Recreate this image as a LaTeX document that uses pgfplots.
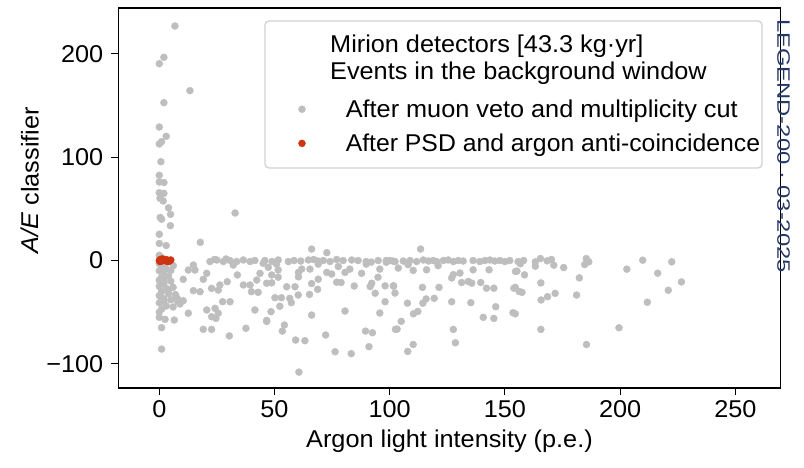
\documentclass[border=0pt]{standalone}
\usepackage{pgfplots}
\pgfplotsset{compat=1.18}
\usepackage{fontspec}
\setmainfont[FakeStretch=1.04]{Liberation Sans}
\definecolor{ptgray}{RGB}{190,190,190}
\definecolor{ptred}{RGB}{207,52,17}
\definecolor{logoblue}{RGB}{35,55,105}
\newcommand{\bigfont}{\fontsize{24.3}{28}\selectfont}
\begin{document}
\begin{tikzpicture}
\useasboundingbox (-118.5pt,-79pt) rectangle (685.5pt,388pt);
\begin{axis}[
  name=ax, at={(0pt,0pt)}, anchor=south west,
  scale only axis, width=662pt, height=380pt,
  xmin=-17.7, xmax=269.6, ymin=-123.4, ymax=244.4,
  xtick={0,50,100,150,200,250},
  ytick={-100,0,100,200},
  yticklabels={−100,0,100,200},
  tick align=outside, tick pos=left,
  major tick length=7pt,
  every tick/.style={black, line width=1.1pt},
  axis line style={black, line width=1.3pt},
  /pgf/number format/assume math mode=true,
  ticklabel style={font=\bigfont},
  xticklabel style={inner sep=5pt},
  yticklabel style={inner sep=8pt},
  xlabel={Argon light intensity (p.e.)},
  ylabel={\textit{A/E} classifier},
  label style={font=\bigfont},
  xlabel style={at={(axis description cs:0.5,-0.1395)}, anchor=center},
  ylabel style={at={(axis description cs:-0.1337,0.547)}, anchor=center},
  legend style={
    at={(0,1)}, anchor=north west, xshift=176.8pt, yshift=-89.5pt,
    draw=none, fill=none, font=\bigfont,
    nodes={inner sep=0pt},
    row sep=15pt,
    /tikz/every odd column/.append style={column sep=40.3pt},
  },
  legend cell align=left,
  legend image code/.code={\draw[#1] plot coordinates {(0pt,0pt)};},
]
\addplot[ptgray, only marks, mark=*, mark size=3.5pt, mark options={draw=ptgray, fill=ptgray}] coordinates {
(6.8,227) (2,196.7) (0,190.5) (13.3,164.4) (2,152.8) (0,129.2) (3,120.2) (1,115) (0,112.8) (0.7,95.6)
(0,82.5) (0,76) (2,75.5) (0,65.6) (2,65) (0.3,60.2) (1.7,57.6) (4,51) (4.9,44.7) (0.4,41.7) (1,40)
(4.8,33.7) (0,25.4) (0,16.5) (3,14.5) (32.9,46) (17.8,17.6)
(0,-3) (1,-6) (3,-8) (0,-10) (2,-13) (1,-16) (4,-15) (0,-19) (2,-22) (0,-25) (3,-27) (1,-30) (4,-32)
(0,-34) (2,-37) (5,-38) (0,-41) (3,-44) (1,-47) (6,-45) (0,-50) (2,-40) (1,-36) (4,-28) (2,-18) (5,-20)
(6,-26) (7,-33) (8,-40) (0,-55) (2.5,-57) (6.5,-57.6) (1,-65) (1,-85.7) (0,5) (1,3) (3,-2)
(6.1,-5) (5,-9.6) (14.8,-4.4) (12.6,-9.2) (15.5,-9.2) (20.6,-12.4) (10.4,-18.2) (19.1,-18.2)
(22,-1) (25,0.5) (27.8,-1) (30.7,0) (33.6,-1) (36.5,0.5) (39.4,-1) (41.5,0) (24,1) (29,1.5)
(32.1,-4.4) (45.1,-2.7) (43.7,-12.4) (42.3,-18.9) (46.6,-22) (33.9,-14) (29.5,-20.5) (26.3,-23.7)
(25.6,-28.6) (22.7,-27) (14.8,-29.2) (17.7,-30.2) (36.5,-23.7) (39.4,-23.7) (40,-30.2) (42.9,-30.8)
(7.8,-36.6) (10.4,-38.9) (9,-42) (12.6,-51) (27.5,-39.9) (30.7,-39.9) (20.6,-47.9) (24.2,-46.3)
(25.6,-51) (22.7,-54.4) (24.6,-56) (41.5,-47.9) (46.6,-58) (19.1,-66.6) (22.7,-66.6) (37.6,-65.6) (30.4,-73)
(66.1,11.1) (72.7,7.6)
(45.8,0) (48.9,-1) (51.6,0.5) (58.5,0) (61.4,-0.5) (64.7,0.5) (69,-0.5) (71.2,0) (74.1,-1) (79.8,0)
(83.5,0.5) (86.3,0) (89.8,-1) (98.5,0) (101.4,-0.5) (56,-1) (67,1) (77,1) (92,-1.5) (95,0)
(47.3,-6.6) (50.9,-3.5) (51.6,-9.2) (60.4,-11.5) (61.8,-8.3) (65.4,-8.3) (69,-3.5) (72.7,-11.5)
(74.8,-13.1) (77.7,-5.8) (80.6,-11.5) (82.7,-8.3) (87.8,-12.4) (89.8,-3.5) (95.7,-8.3) (98.5,-1.7) (94.9,-16.2)
(48.8,-14) (51.6,-16.2) (48.8,-21.6) (55.3,-25.4) (58.9,-25.4) (60.4,-15.8) (66.1,-22.3) (68.7,-27.9)
(69,-18.1) (77,-21) (78.9,-21.3) (84.6,-24.7) (92.2,-22) (91.5,-25.2) (93.7,-31.7) (98,-24.5) (101.7,-24.8)
(98,-39.9) (50.2,-36) (53,-36) (56.6,-36.6) (57.3,-40.8) (52.3,-44.3) (60.3,-33.4) (65.2,-32.8)
(48.5,-49.5) (46.6,-59) (66.1,-52.8) (80.6,-48.9) (95.7,-50.8) (54.3,-62.4) (53.4,-68.3) (72.2,-72.1)
(89.5,-68.3) (92.5,-69.9) (59.2,-77) (63.2,-77.6) (91,-83.4) (76.3,-88.3) (83.3,-90.2) (60.6,-108) (102.5,-66.6)
(113.4,11.1)
(100.1,0) (102.3,-1) (105.9,-0.5) (108.8,0) (111.7,-1) (114.6,0.5) (116.8,-0.5) (118.9,0) (120.4,-1)
(123.3,0) (125.4,0.5) (127.6,-1) (129.7,0) (131.9,-0.5) (136.2,0) (139.1,-1) (141.3,0) (143.5,0.5)
(145.6,-0.5) (147.8,0) (150,-1) (152.1,0) (155.7,-1)
(103.7,-7.3) (110.2,-9.6) (116,-9) (127.6,-13.7) (130.5,-12.1) (136.2,-9) (143.1,-9) (126.9,-16.9)
(154.6,-10.6) (108,-4) (121,-5)
(131.2,-21.3) (134.1,-20.3) (135.6,-21.9) (139.5,-21.3) (142,-26.8) (145.2,-26.8) (153.9,-26.8) (156.2,-30)
(101.6,-24.4) (102.3,-31.5) (114.2,-26) (121.4,-26)
(107.7,-41.3) (115.8,-37.2) (114.4,-41.3) (119.3,-36.6) (126.9,-39.9) (135.2,-40.8)
(110.3,-51.6) (112.2,-49.3) (105,-58.9) (103.2,-66.4)
(140.6,-55) (145.2,-56) (146,-44.7) (153.5,-50.5)
(127.6,-66.7) (128.5,-79.6) (110.2,-81.3) (107.8,-88)
(158.1,0) (156.7,-3.2) (155.2,-10.3) (158.5,-13.9) (163.2,-1.3) (165.4,1.9) (168.3,-0.3) (170.2,1)
(171.2,-4.5) (163.2,-5.5) (175.5,-6.8) (185.3,1.9) (186.4,-1.3) (184.6,-3.9) (182.3,-16.8) (202.9,-8.4) (209.8,0.3)
(154.5,-26) (157.4,-30.8) (165.6,-21.7) (165.7,-38.2) (168.5,-35) (171.8,-31.8) (181.1,-33.4) (154.5,-51.6)
(165.6,-66.7) (199.5,-65.1) (185.4,-81.3)
(222.4,-1.3) (216.3,-12.3) (226.6,-20.7) (220.9,-28.8) (211.8,-40.4)
};
\addlegendentry{After muon veto and multiplicity cut}
\addplot[ptred, only marks, mark=*, mark size=3.5pt, mark options={draw=ptred, fill=ptred}] coordinates {
(0,0) (0.5,1) (1,-0.5) (1.5,0.8) (2,0) (2.5,1) (3,-0.5) (3.5,0.5) (4,0) (4.5,-0.5)
(0.3,-1) (1.2,1.5) (2.8,0.3) (3.8,-1) (0.8,0.3) (5,0.5)
};
\addlegendentry{\scalebox{0.98}[1]{After PSD and argon anti-coincidence}}
\end{axis}
\draw[black!18, line width=1.3pt, rounded corners=4pt] (146.5pt,367pt) rectangle (643.5pt,220pt);
\node[anchor=base west, inner sep=0pt, font=\bigfont, xshift=211.5pt, yshift=-44.5pt] at (ax.north west) {Mirion detectors [43.3 kg·yr]};
\node[anchor=base west, inner sep=0pt, font=\bigfont, xshift=211.5pt, yshift=-72pt] at (ax.north west) {Events in the background window};
\node[rotate=-90, anchor=west, inner sep=0pt, font=\fontsize{18}{20}\selectfont, text=logoblue, xshift=11pt, yshift=3pt] at (ax.north east) {\scalebox{1.27}[1]{LEGEND-200 · 03-2025}};
\end{tikzpicture}
\end{document}
